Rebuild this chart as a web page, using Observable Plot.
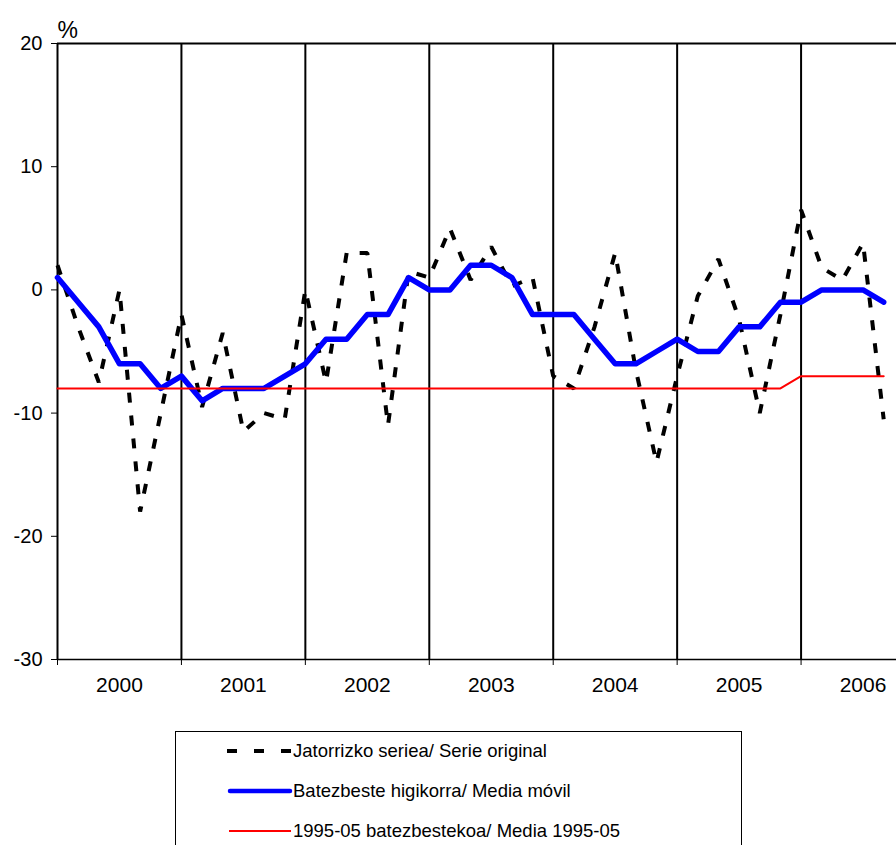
<!DOCTYPE html>
<html>
<head>
<meta charset="utf-8">
<script src="https://cdn.jsdelivr.net/npm/d3@7"></script>
<script src="https://cdn.jsdelivr.net/npm/@observablehq/plot@0.6"></script>
<style>
  html, body { margin: 0; padding: 0; background: #fff; overflow: hidden; }
  body { width: 896px; height: 845px; position: relative; font-family: "Liberation Sans", Arial, sans-serif; }
  #chart { position: absolute; left: 0; top: 0; }
  #legend { position: absolute; left: 175px; top: 731px; width: 567px; height: 130px; border: 1px solid #000; box-sizing: border-box; background: #fff; }
  .row { position: absolute; left: 0; height: 24px; display: flex; align-items: center; font-size: 18.5px; color: #000; white-space: nowrap; }
  .row svg { display: block; margin-left: 49px; }
</style>
</head>
<body>
<div id="chart"></div>
<div id="legend"></div>
<script>
// Bimonthly observations, 6 per year, starting 2000
const yearLabels = ["2000", "2001", "2002", "2003", "2004", "2005", "2006"];
const yearStart = 2000;
const perYear = 6;

// Jatorrizko seriea / Serie original
const original = [
  2, -3, -7.5, 0, -18, -10,
  -2, -9.5, -3.5, -11.5, -10, -10.5,
  0, -7.5, 3, 3, -11, 1.5,
  1, 5, 0.8, 3.5, 0.3, 1,
  -7, -8, -3, 3, -6.5, -14,
  -7, -0.5, 2.5, -2.4, -10, -2,
  6.5, 1.8, 0.8, 3.8, -10.5
];
// Batezbeste higikorra / Media móvil
const movingAvg = [
  1, -1, -3, -6, -6, -8,
  -7, -9, -8, -8, -8, -7,
  -6, -4, -4, -2, -2, 1,
  0, 0, 2, 2, 1, -2,
  -2, -2, -4, -6, -6, -5,
  -4, -5, -5, -3, -3, -1,
  -1, 0, 0, 0, -1
];
// 1995-05 batezbestekoa / Media 1995-05
const mean9505 = [
  -8, -8, -8, -8, -8, -8,
  -8, -8, -8, -8, -8, -8,
  -8, -8, -8, -8, -8, -8,
  -8, -8, -8, -8, -8, -8,
  -8, -8, -8, -8, -8, -8,
  -8, -8, -8, -8, -8, -8,
  -7, -7, -7, -7, -7
];
const yTicks = [-30, -20, -10, 0, 10, 20];

const legendItems = [
  {label: "Jatorrizko seriea/ Serie original", kind: "dash"},
  {label: "Batezbeste higikorra/ Media móvil", kind: "blue"},
  {label: "1995-05 batezbestekoa/ Media 1995-05", kind: "red"}
];

const rows = original.map((v, i) => ({
  x: yearStart + i / perYear,
  orig: v,
  ma: movingAvg[i],
  mean: mean9505[i]
}));
const years = yearLabels.map(Number);
const mids = years.map(y => y + 0.5);

const chart = Plot.plot({
  width: 896,
  height: 700,
  marginLeft: 57,
  marginRight: 0,
  marginTop: 43,
  marginBottom: 41,
  style: {fontFamily: "'Liberation Sans', Arial, sans-serif", fontSize: "20px", color: "#000", background: "#fff"},
  x: {domain: [2000, 2006.77], axis: null},
  y: {domain: [-30, 20], axis: null},
  marks: [
    Plot.ruleX(years, {stroke: "#000", strokeWidth: 2}),
    Plot.ruleY([20], {stroke: "#000", strokeWidth: 2}),
    Plot.ruleY([-30], {stroke: "#000", strokeWidth: 1.5}),
    Plot.axisY({ticks: yTicks, tickSize: 6, tickPadding: 9, tickFormat: d => String(d), label: null, stroke: "#000", fill: "#000", fontSize: 20}),
    Plot.axisX({ticks: years, tickSize: 6, tickFormat: () => "", label: null, stroke: "#000"}),
    Plot.axisX({ticks: mids, tickSize: 0, tickPadding: 18, tickFormat: (d, i) => yearLabels[i], label: null, fill: "#000", fontSize: 21}),
    Plot.line(rows, {x: "x", y: "orig", stroke: "#000", strokeWidth: 4, strokeDasharray: "10,13", strokeLinejoin: "miter", strokeLinecap: "butt"}),
    Plot.line(rows, {x: "x", y: "ma", stroke: "#0000ff", strokeWidth: 5.5, strokeLinejoin: "round", strokeLinecap: "round"}),
    Plot.line(rows, {x: "x", y: "mean", stroke: "#ff0000", strokeWidth: 2}),
    Plot.text(["%"], {frameAnchor: "top-left", dx: 0, dy: -6, lineAnchor: "bottom", textAnchor: "start", fontSize: 23, fill: "#000"})
  ]
});
document.getElementById("chart").appendChild(chart);

// Legend
const legend = document.getElementById("legend");
legendItems.forEach((item, i) => {
  const row = document.createElement("div");
  row.className = "row";
  row.style.top = (7 + i * 40) + "px";
  const s = d3.create("svg").attr("width", 68).attr("height", 24);
  if (item.kind === "dash") {
    s.append("line").attr("x1", 2).attr("x2", 66).attr("y1", 12).attr("y2", 12)
      .attr("stroke", "#000").attr("stroke-width", 4).attr("stroke-dasharray", "10,17");
  } else if (item.kind === "blue") {
    s.append("line").attr("x1", 5).attr("x2", 65).attr("y1", 12).attr("y2", 12)
      .attr("stroke", "#0000ff").attr("stroke-width", 4.5).attr("stroke-linecap", "round");
  } else {
    s.append("line").attr("x1", 4).attr("x2", 66).attr("y1", 12).attr("y2", 12)
      .attr("stroke", "#ff0000").attr("stroke-width", 2);
  }
  row.appendChild(s.node());
  const t = document.createElement("span");
  t.textContent = item.label;
  row.appendChild(t);
  legend.appendChild(row);
});
</script>
</body>
</html>
